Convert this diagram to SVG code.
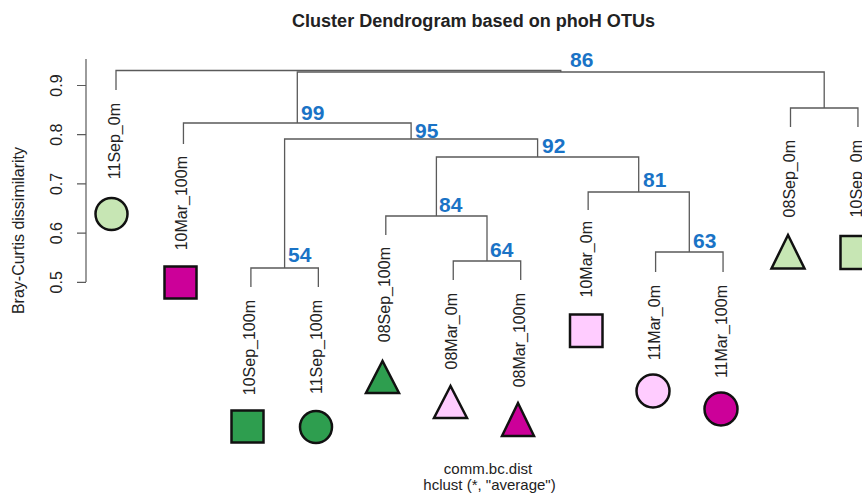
<svg xmlns="http://www.w3.org/2000/svg" width="862" height="497" viewBox="0 0 862 497">
<style>
.t{font-family:"Liberation Sans",Arial,sans-serif;fill:#222}
.lab{font-family:"Liberation Sans",Arial,sans-serif;font-size:16px;fill:#222;text-anchor:end}
.bs{font-family:"Liberation Sans",Arial,sans-serif;font-size:21px;font-weight:bold;fill:#1a73c6}
.br{fill:none;stroke:#5a5a5a;stroke-width:1.3}
.ax{fill:none;stroke:#5a5a5a;stroke-width:1.2}
.sym{stroke:#111;stroke-width:2.5}
.lg{fill:#c7e6b4}.dg{fill:#2e9e4f}.mg{fill:#cc0099}.pk{fill:#ffccff}
</style>
<rect width="862" height="497" fill="#fff"/>
<text class="t" x="473.5" y="27" font-size="18" font-weight="bold" text-anchor="middle" textLength="363" lengthAdjust="spacingAndGlyphs">Cluster Dendrogram based on phoH OTUs</text>
<g id="axis">
<path class="ax" d="M86 59V282M77 85.5H86M77 134.7H86M77 183.9H86M77 233.1H86M77 282.3H86"/>
<text class="t" font-size="16" text-anchor="middle" transform="translate(62,85.5) rotate(-90)">0.9</text>
<text class="t" font-size="16" text-anchor="middle" transform="translate(62,134.7) rotate(-90)">0.8</text>
<text class="t" font-size="16" text-anchor="middle" transform="translate(62,183.9) rotate(-90)">0.7</text>
<text class="t" font-size="16" text-anchor="middle" transform="translate(62,233.1) rotate(-90)">0.6</text>
<text class="t" font-size="16" text-anchor="middle" transform="translate(62,282.3) rotate(-90)">0.5</text>
<text class="t" font-size="16" text-anchor="middle" transform="translate(24,230.5) rotate(-90)">Bray-Curtis dissimilarity</text>
</g>
<g id="connectors">
<path class="br" d="M116 90V70.5H560.8V72"/>
<path class="br" d="M297.3 123V72H824.2V108"/>
<path class="br" d="M183.45 144V123H411.1V139"/>
<path class="br" d="M284.6 268V139H537.6V157"/>
<path class="br" d="M250.9 287V268H318.35V287"/>
<path class="br" d="M436.4 216V157H638.7V192"/>
<path class="br" d="M385.8 235V216H487V261"/>
<path class="br" d="M453.25 280V261H520.7V280"/>
<path class="br" d="M588.15 210V192H689.3V252"/>
<path class="br" d="M655.6 272V252H723.05V272"/>
<path class="br" d="M790.5 127V108H857.95V127"/>
</g>
<g id="bootstrap">
<text class="bs" x="570" y="67">86</text>
<text class="bs" x="301" y="120">99</text>
<text class="bs" x="415" y="137.5">95</text>
<text class="bs" x="542" y="153">92</text>
<text class="bs" x="439" y="212">84</text>
<text class="bs" x="490" y="257">64</text>
<text class="bs" x="288" y="262">54</text>
<text class="bs" x="643" y="187">81</text>
<text class="bs" x="693" y="248">63</text>
</g>
<g id="leaf-11Sep_0m"><text class="lab" transform="translate(119.5,103) rotate(-90)">11Sep_0m</text><circle class="sym lg" cx="111.5" cy="214" r="16"/></g>
<g id="leaf-10Mar_100m"><text class="lab" transform="translate(187,156) rotate(-90)">10Mar_100m</text><rect class="sym mg" x="164.5" y="266.5" width="32" height="32"/></g>
<g id="leaf-10Sep_100m"><text class="lab" transform="translate(254.5,300) rotate(-90)">10Sep_100m</text><rect class="sym dg" x="231.5" y="410.5" width="32" height="32"/></g>
<g id="leaf-11Sep_100m"><text class="lab" transform="translate(322,300) rotate(-90)">11Sep_100m</text><circle class="sym dg" cx="316" cy="427" r="16"/></g>
<g id="leaf-08Sep_100m"><text class="lab" transform="translate(389.5,247) rotate(-90)">08Sep_100m</text><polygon class="sym dg" points="382.5,361 366,393 399,393"/></g>
<g id="leaf-08Mar_0m"><text class="lab" transform="translate(457,293) rotate(-90)">08Mar_0m</text><polygon class="sym pk" points="450.5,386 434,418 467,418"/></g>
<g id="leaf-08Mar_100m"><text class="lab" transform="translate(524.5,293) rotate(-90)">08Mar_100m</text><polygon class="sym mg" points="518,403 502,436 534,436"/></g>
<g id="leaf-10Mar_0m"><text class="lab" transform="translate(592,221) rotate(-90)">10Mar_0m</text><rect class="sym pk" x="570" y="314.5" width="32.5" height="32.5"/></g>
<g id="leaf-11Mar_0m"><text class="lab" transform="translate(659.5,285) rotate(-90)">11Mar_0m</text><circle class="sym pk" cx="653" cy="391" r="16.5"/></g>
<g id="leaf-11Mar_100m"><text class="lab" transform="translate(727,285) rotate(-90)">11Mar_100m</text><circle class="sym mg" cx="721" cy="409" r="16.5"/></g>
<g id="leaf-08Sep_0m"><text class="lab" transform="translate(794.5,140) rotate(-90)">08Sep_0m</text><polygon class="sym lg" points="788,235 771.5,268.5 804.5,268.5"/></g>
<g id="leaf-10Sep_0m"><text class="lab" transform="translate(862,140) rotate(-90)">10Sep_0m</text><rect class="sym lg" x="840.5" y="236" width="33" height="33"/></g>
<text class="t" x="488" y="474" font-size="15" text-anchor="middle">comm.bc.dist</text>
<text class="t" x="489.5" y="490" font-size="15" text-anchor="middle">hclust (*, "average")</text>
</svg>
